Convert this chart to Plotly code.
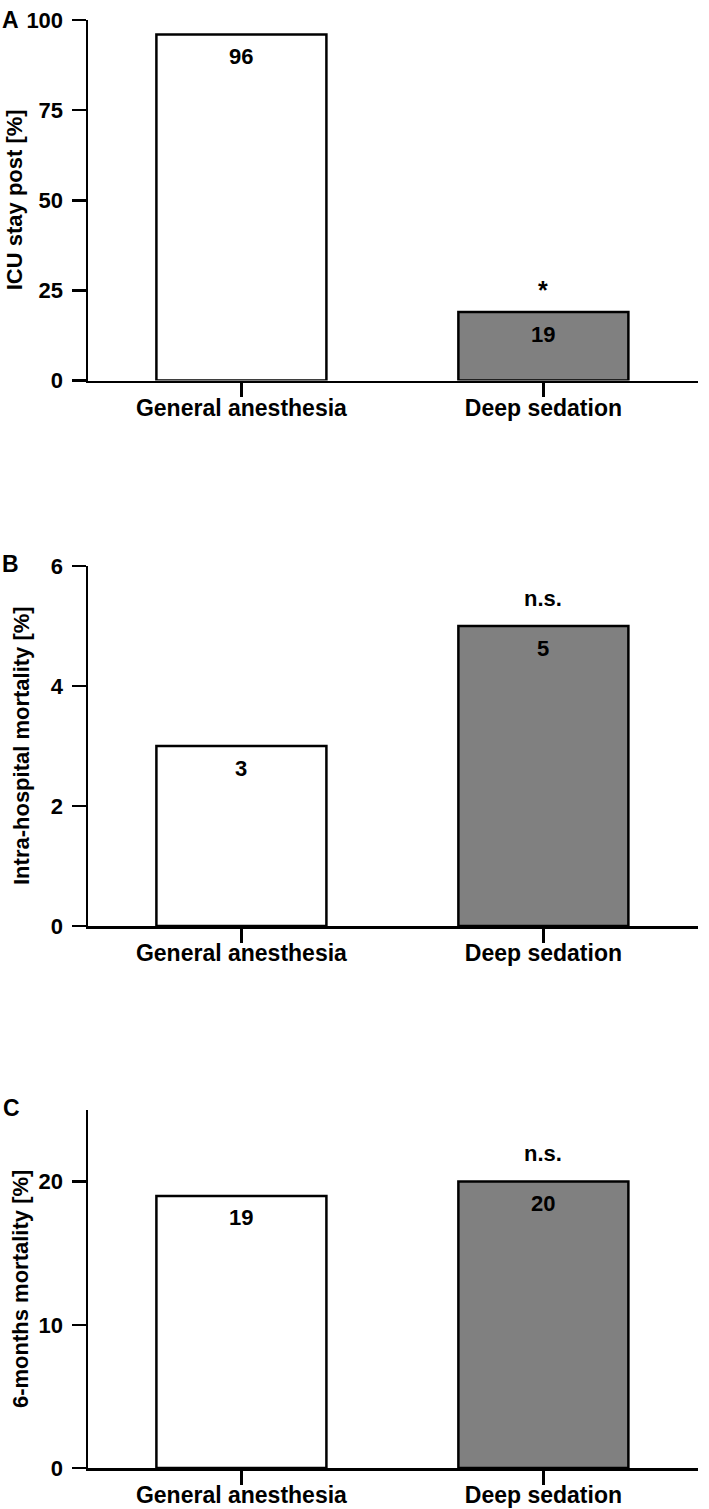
import plotly.graph_objects as go

# ---- data ----
categories = ["General anesthesia", "Deep sedation"]
icu_stay = [96, 19]
intra_mortality = [3, 5]
six_month_mortality = [19, 20]
panel_values = [icu_stay, intra_mortality, six_month_mortality]
panel_letters = ["A", "B", "C"]
y_titles = ["ICU stay post [%]", "Intra-hospital mortality [%]", "6-months mortality [%]"]
significance = ["*", "n.s.", "n.s."]
y_ranges = [[0, 100], [0, 6], [0, 25]]
y_ticks = [[0, 25, 50, 75, 100], [0, 2, 4, 6], [0, 10, 20]]
bar_colors = ["#ffffff", "#808080"]

# ---- layout geometry (pixels) ----
W, H = 709, 1509
panel_px = [(20, 380.5), (566, 926), (1110, 1468)]  # (top, bottom)
x_px = (88, 698)
title_x_px = [14, 21, 20]
letter_pos = [(10, 20), (10.5, 564), (11, 1108)]

FONT = "Liberation Sans, Arial, Helvetica, sans-serif"

fig = go.Figure()
layout = dict(
    width=W, height=H,
    margin=dict(l=0, r=0, t=0, b=0),
    paper_bgcolor="white", plot_bgcolor="white",
    showlegend=False,
    bargap=0,
    annotations=[],
)

for i in range(3):
    n = "" if i == 0 else str(i + 1)
    xa, ya = "x" + n, "y" + n
    fig.add_trace(go.Bar(
        x=categories, y=panel_values[i],
        xaxis=xa, yaxis=ya,
        width=0.563,
        marker=dict(color=bar_colors, line=dict(color="black", width=2.5)),
        hoverinfo="skip",
    ))
    top, bot = panel_px[i]
    layout["xaxis" + n] = dict(
        domain=[x_px[0] / W, x_px[1] / W],
        anchor=ya, type="category",
        range=[-0.508, 1.512],
        showline=True, linecolor="black", linewidth=2.5,
        ticks="outside", ticklen=14, tickwidth=2.5, tickcolor="black",
        ticklabelstandoff=-9,
        showgrid=False, zeroline=False, automargin=False,
        tickfont=dict(family=FONT, size=23, color="black", weight="bold"),
        fixedrange=True,
    )
    layout["yaxis" + n] = dict(
        domain=[(H - bot) / H, (H - top) / H],
        anchor=xa,
        range=y_ranges[i],
        tickmode="array", tickvals=y_ticks[i],
        showline=True, linecolor="black", linewidth=2.5,
        ticks="outside", ticklen=14, tickwidth=2.5, tickcolor="black",
        ticklabelstandoff=4,
        showgrid=False, zeroline=False, automargin=False,
        tickfont=dict(family=FONT, size=22, color="black", weight="bold"),
        fixedrange=True,
    )
    # value labels inside bars
    for c, v in zip(categories, panel_values[i]):
        layout["annotations"].append(dict(
            x=c, y=v, xref=xa, yref=ya, text=str(v), showarrow=False,
            yanchor="middle", yshift=-22,
            font=dict(family=FONT, size=22, color="black", weight="bold"),
        ))
    # significance label above second bar
    is_star = significance[i] == "*"
    layout["annotations"].append(dict(
        x=categories[1], y=panel_values[i][1], xref=xa, yref=ya,
        text=significance[i], showarrow=False,
        yanchor="middle", yshift=(22 if is_star else 28),
        font=dict(family=FONT, size=(25 if is_star else 22), color="black", weight="bold"),
    ))
    # y-axis title
    layout["annotations"].append(dict(
        x=title_x_px[i] / W, y=(H - (top + bot) / 2) / H, xref="paper", yref="paper",
        text=y_titles[i], showarrow=False, textangle=-90,
        xanchor="center", yanchor="middle",
        font=dict(family=FONT, size=22, color="black", weight="bold"),
    ))
    # panel letter
    lx, ly = letter_pos[i]
    layout["annotations"].append(dict(
        x=lx / W, y=(H - ly) / H, xref="paper", yref="paper",
        text=panel_letters[i], showarrow=False,
        xanchor="center", yanchor="middle",
        font=dict(family=FONT, size=23, color="black", weight="bold"),
    ))

fig.update_layout(**layout)
fig.write_html(
    "out.html",
    config={"displayModeBar": False, "staticPlot": True},
    post_script="document.body.style.margin='0';document.body.style.padding='0';"
                "document.documentElement.style.overflow='hidden';",
)
